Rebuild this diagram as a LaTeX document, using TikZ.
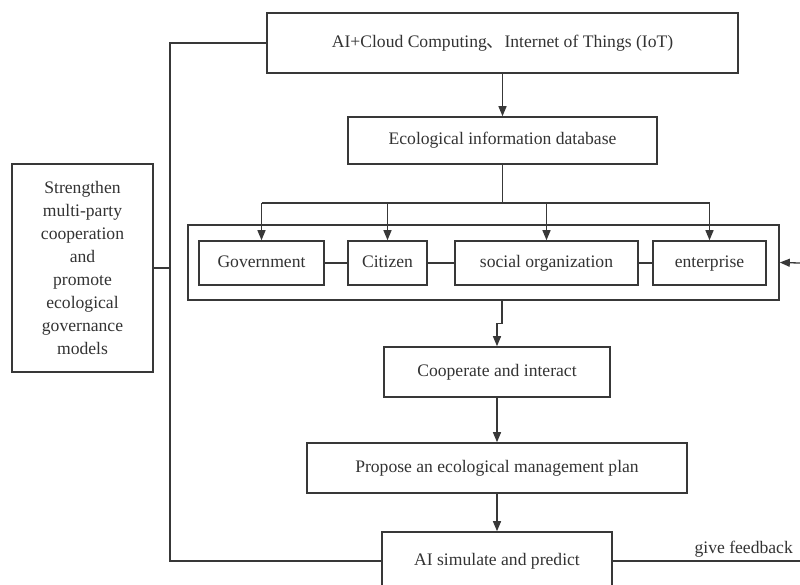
\documentclass[tikz,border=0pt]{standalone}
\usepackage{fontspec}
\setmainfont{Liberation Serif}
\newfontfamily\cjk{Noto Sans CJK SC}
\usetikzlibrary{arrows.meta}
\definecolor{ln}{HTML}{383838}
\definecolor{tx}{HTML}{333333}
\begin{document}
\begin{tikzpicture}[x=1pt,y=-1pt,
  box/.style={draw=ln, line width=1.6pt, fill=white, inner sep=0pt, align=center,
              text=tx, font=\fontsize{17.6}{23}\selectfont},
  sbox/.style={box, text height=12.5pt, text depth=4pt},
  lbl/.style={inner sep=0pt, text=tx, font=\fontsize{17.6}{23}\selectfont},
  conn/.style={draw=ln, line width=1.3pt},
  arr/.style={conn, -{Triangle[length=10pt,width=8pt]}}]
\useasboundingbox (0,0) rectangle (800,584);

% nodes
\node[sbox, minimum width=471pt, minimum height=60pt] (top) at (502.5,43)
  {AI+Cloud Computing{\cjk 、}Internet of Things (IoT)};
\node[sbox, minimum width=309pt, minimum height=47pt] (db) at (502.5,140.5)
  {Ecological information database};
\node[box, minimum width=591pt, minimum height=75pt] (cont) at (483.5,262.5) {};
\node[sbox, minimum width=125pt, minimum height=44pt] (gov) at (261.5,263) {Government};
\node[sbox, minimum width=79pt, minimum height=44pt] (cit) at (387.5,263) {Citizen};
\node[sbox, minimum width=183pt, minimum height=44pt] (soc) at (546.5,263) {social organization};
\node[sbox, minimum width=113pt, minimum height=44pt] (ent) at (709.5,263) {enterprise};
\node[box, minimum width=141pt, minimum height=208pt] (left) at (82.5,268)
  {Strengthen\\multi-party\\cooperation\\and\\promote\\ecological\\governance\\models};
\node[sbox, minimum width=226pt, minimum height=50pt] (coop) at (497,372) {Cooperate and interact};
\node[sbox, minimum width=380pt, minimum height=50pt] (prop) at (497,468)
  {Propose an ecological management plan};
\node[sbox, minimum width=230pt, minimum height=58pt] (ai) at (497,561) {AI simulate and predict};
\node[lbl, anchor=base east] (fbl) at (793,553) {give feedback};

% coordinates for free ends and bends
\coordinate (split) at (502.5,203);
\coordinate (c1) at (170,43);
\coordinate (c2) at (170,561);
\coordinate (rin) at (800,263);
\coordinate (fb) at (800,561);

% connectors
\draw[arr] (top.south) -- (db.north);
\draw[conn] (db.south) -- (split);
\draw[conn] (gov.north |- split) -- (ent.north |- split);
\draw[arr] (gov.north |- split) -- (gov.north);
\draw[arr] (cit.north |- split) -- (cit.north);
\draw[arr] (soc.north |- split) -- (soc.north);
\draw[arr] (ent.north |- split) -- (ent.north);
\draw[conn] (gov.east) -- (cit.west);
\draw[conn] (cit.east) -- (soc.west);
\draw[conn] (soc.east) -- (ent.west);
\draw[arr] (rin) -- (cont.east);
\draw[arr] ([xshift=18.5pt]cont.south) -- ++(0,23) -| (coop.north);
\draw[arr] (coop.south) -- (prop.north);
\draw[arr] (prop.south) -- (ai.north);
\draw[conn] (top.west) -- (c1) -- (c2) -- (ai.west);
\draw[conn] (left.east) -- (left.east -| c1);
\draw[conn] (ai.east) -- (fb);
\end{tikzpicture}
\end{document}
